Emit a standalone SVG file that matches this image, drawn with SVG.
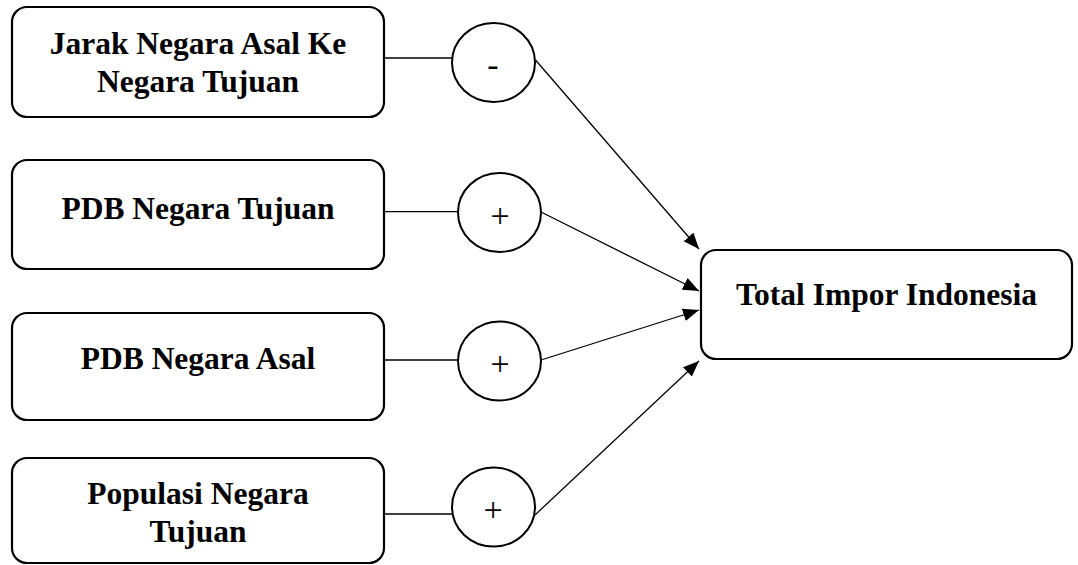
<svg xmlns="http://www.w3.org/2000/svg" width="1078" height="565" viewBox="0 0 1078 565">
<style>
.box{fill:#fff;stroke:#000;stroke-width:2.2}
.circ{fill:#fff;stroke:#000;stroke-width:2}
.conn{stroke:#000;stroke-width:1.3;fill:none}
</style>
<defs>
<marker id="ah" markerUnits="userSpaceOnUse" markerWidth="18" markerHeight="14" refX="16" refY="6.5" orient="auto">
<path d="M0,0 L16,6.5 L0,13 Z" fill="#000"/>
</marker>
</defs>
<g id="connectors">
<line class="conn" x1="384" y1="58" x2="452" y2="58"/>
<line class="conn" x1="384" y1="211.7" x2="458" y2="211.7"/>
<line class="conn" x1="384" y1="360" x2="458" y2="360"/>
<line class="conn" x1="384" y1="514" x2="452" y2="514"/>
<line class="conn" x1="535.5" y1="60" x2="699" y2="249" marker-end="url(#ah)"/>
<line class="conn" x1="541" y1="212" x2="699" y2="291" marker-end="url(#ah)"/>
<line class="conn" x1="541" y1="360" x2="699" y2="310" marker-end="url(#ah)"/>
<line class="conn" x1="535" y1="515" x2="699" y2="361" marker-end="url(#ah)"/>
</g>
<g font-family="Liberation Serif, serif" font-weight="bold" font-size="31.5" text-anchor="middle" fill="#000">
<g id="node-jarak">
<rect class="box" x="12" y="7" width="372" height="110" rx="15"/>
<text x="198" y="54">Jarak Negara Asal Ke</text>
<text x="198" y="91.5">Negara Tujuan</text>
</g>
<g id="node-pdb-tujuan">
<rect class="box" x="12" y="160" width="372" height="109" rx="15"/>
<text x="198" y="218.5">PDB Negara Tujuan</text>
</g>
<g id="node-pdb-asal">
<rect class="box" x="12" y="313" width="372" height="107" rx="15"/>
<text x="198" y="369">PDB Negara Asal</text>
</g>
<g id="node-populasi">
<rect class="box" x="12" y="458" width="372" height="105" rx="15"/>
<text x="198" y="504">Populasi Negara</text>
<text x="198" y="541.5">Tujuan</text>
</g>
<g id="node-total">
<rect class="box" x="701" y="250" width="371" height="109" rx="15"/>
<text x="886.5" y="305">Total Impor Indonesia</text>
</g>
</g>
<g font-family="Liberation Serif, serif" font-size="34" text-anchor="middle" fill="#000">
<g id="sign-1">
<ellipse class="circ" cx="493.5" cy="62.5" rx="41.5" ry="39.5"/>
<text x="493" y="76">-</text>
</g>
<g id="sign-2">
<ellipse class="circ" cx="499.5" cy="212.5" rx="41.5" ry="39.5"/>
<text x="500" y="226.5">+</text>
</g>
<g id="sign-3">
<ellipse class="circ" cx="499.5" cy="361" rx="41.5" ry="39.5"/>
<text x="500" y="374.5">+</text>
</g>
<g id="sign-4">
<ellipse class="circ" cx="493.5" cy="507" rx="41.5" ry="39.5"/>
<text x="493" y="520.5">+</text>
</g>
</g>
</svg>
